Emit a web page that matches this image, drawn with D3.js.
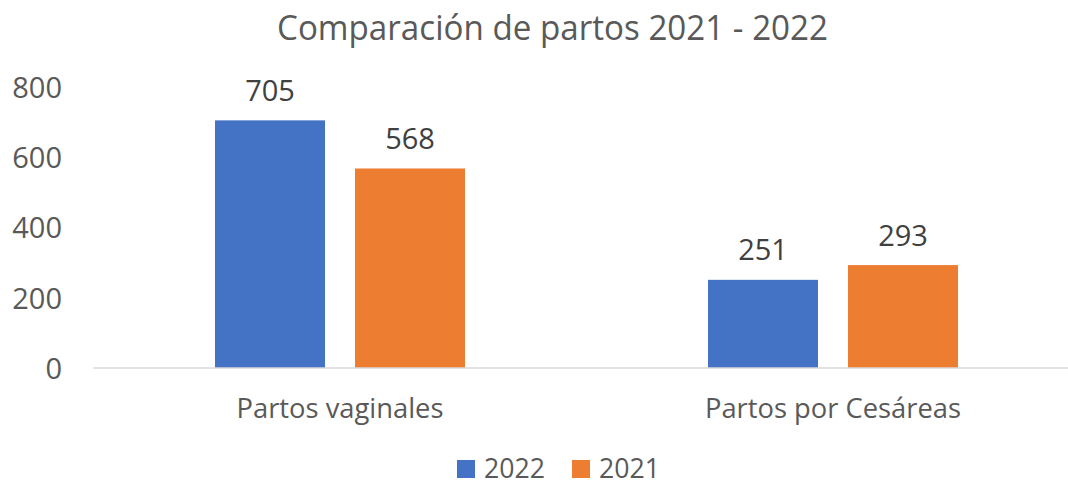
<!DOCTYPE html>
<html>
<head>
<meta charset="utf-8">
<script src="https://cdn.jsdelivr.net/npm/d3@7"></script>
<style>
  html, body { margin: 0; padding: 0; background: #ffffff; }
  svg { display: block; font-family: "Open Sans", "Noto Sans", sans-serif; }
</style>
</head>
<body>
<svg id="chart" width="1068" height="485"></svg>
<script>
// ---- data ----
const categories = ["Partos vaginales", "Partos por Cesáreas"];
const seriesNames = ["2022", "2021"];
const values2022 = [705, 251];
const values2021 = [568, 293];
const yTicks = [0, 200, 400, 600, 800];
const titleText = "Comparación de partos 2021 - 2022";

const seriesValues = { "2022": values2022, "2021": values2021 };
const colors = { "2022": "#4472C4", "2021": "#ED7D31" };

const svg = d3.select("#chart");

// scales
const x0 = d3.scaleBand().domain(categories).range([93.5, 1079.5]).paddingInner(0).paddingOuter(0);
const groupW = 250;
const x1 = d3.scaleBand().domain(seriesNames).range([0, groupW]).paddingInner(30 / 140).paddingOuter(0);
const y = d3.scaleLinear().domain([0, 800]).range([368, 87]);

function fitText(sel, target) {
  sel.each(function () {
    const len = this.getComputedTextLength();
    if (Math.abs(len - target) > 2) {
      d3.select(this).attr("textLength", target).attr("lengthAdjust", "spacingAndGlyphs");
    }
  });
}

// title
svg.append("text")
  .attr("x", 552.5).attr("y", 40)
  .attr("text-anchor", "middle")
  .attr("font-size", 35)
  .attr("fill", "#595959")
  .text(titleText)
  .call(fitText, 551);

// y axis labels
const yAxis = d3.axisLeft(y).tickValues(yTicks).tickSize(0).tickPadding(0);
const gy = svg.append("g").attr("transform", "translate(62,0)").call(yAxis);
gy.select(".domain").remove();
gy.selectAll("text")
  .attr("font-family", "Open Sans, Noto Sans, sans-serif")
  .attr("font-size", 29)
  .attr("fill", "#595959")
  .attr("dy", "0.36em");

// bars
const data = [];
categories.forEach((c, i) => {
  seriesNames.forEach(s => data.push({ cat: c, series: s, value: seriesValues[s][i] }));
});

function barX(d) {
  return x0(d.cat) + x0.bandwidth() / 2 - groupW / 2 + x1(d.series);
}

svg.append("g").selectAll("rect")
  .data(data).join("rect")
  .attr("x", d => barX(d))
  .attr("width", x1.bandwidth())
  .attr("y", d => y(d.value))
  .attr("height", d => y(0) - y(d.value))
  .attr("fill", d => colors[d.series]);

// baseline axis
const gx = svg.append("g").attr("transform", "translate(0," + y(0) + ")")
  .call(d3.axisBottom(x0).tickSize(0).tickPadding(0));
gx.select(".domain").remove();
gx.selectAll("text")
  .attr("font-family", "Open Sans, Noto Sans, sans-serif")
  .attr("font-size", 28)
  .attr("fill", "#595959")
  .attr("y", 418 - y(0))
  .attr("dy", 0);
gx.selectAll("text").filter(d => d === categories[0]).call(fitText, 207);
gx.selectAll("text").filter(d => d === categories[1]).call(fitText, 256);

svg.append("line")
  .attr("x1", 93).attr("x2", 1068)
  .attr("y1", y(0)).attr("y2", y(0))
  .attr("stroke", "#D9D9D9").attr("stroke-width", 1.5);

// data labels
svg.append("g").selectAll("text")
  .data(data).join("text")
  .attr("x", d => barX(d) + x1.bandwidth() / 2)
  .attr("y", d => y(d.value) - 19.5)
  .attr("text-anchor", "middle")
  .attr("font-size", 29)
  .attr("fill", "#404040")
  .text(d => d.value);

// legend
const legendX = [457, 572];
const legend = svg.append("g").selectAll("g")
  .data(seriesNames).join("g")
  .attr("transform", (d, i) => "translate(" + legendX[i] + ",0)");
legend.append("rect")
  .attr("x", 0).attr("y", 460).attr("width", 18).attr("height", 18)
  .attr("fill", d => colors[d]);
legend.append("text")
  .attr("x", 27).attr("y", 478)
  .attr("font-size", 28)
  .attr("fill", "#595959")
  .text(d => d)
  .call(fitText, 61);
</script>
</body>
</html>
